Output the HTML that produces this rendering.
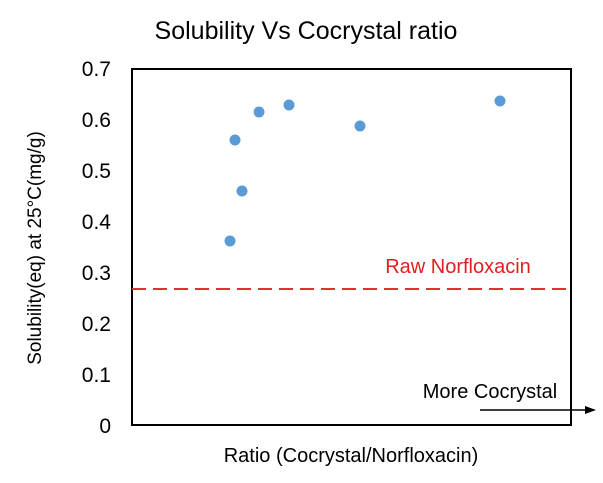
<!DOCTYPE html>
<html><head><style>
body{margin:0;background:#fff;}
svg text{font-family:"Liberation Sans",sans-serif;}
</style></head><body>
<svg width="603" height="478" xmlns="http://www.w3.org/2000/svg">
<rect width="603" height="478" fill="#fff"/>
<text x="306" y="39" font-size="25" text-anchor="middle" fill="#000">Solubility Vs Cocrystal ratio</text>
<rect x="132" y="69" width="439" height="356" fill="none" stroke="#000" stroke-width="2"/>
<g font-size="21" text-anchor="end" fill="#000">
<text x="111" y="76">0.7</text>
<text x="111" y="127">0.6</text>
<text x="111" y="178">0.5</text>
<text x="111" y="229">0.4</text>
<text x="111" y="280">0.3</text>
<text x="111" y="331">0.2</text>
<text x="111" y="382">0.1</text>
<text x="111" y="433">0</text>
</g>
<text transform="translate(41,248) rotate(-90)" font-size="19" text-anchor="middle">Solubility(eq) at 25°C(mg/g)</text>
<text x="351" y="462" font-size="20" text-anchor="middle">Ratio (Cocrystal/Norfloxacin)</text>
<line x1="132" y1="289" x2="571" y2="289" stroke="#e03030" stroke-width="2" stroke-dasharray="14,7"/>
<text x="458" y="273" font-size="20" fill="#e02020" text-anchor="middle">Raw Norfloxacin</text>
<text x="490" y="398" font-size="20" text-anchor="middle">More Cocrystal</text>
<line x1="480" y1="410" x2="586" y2="410" stroke="#000" stroke-width="1.5"/>
<polygon points="596,410 585,406 585,414" fill="#000"/>
<g fill="#5b9bd5">
<circle cx="230" cy="241" r="5.5"/>
<circle cx="235" cy="140" r="5.5"/>
<circle cx="242" cy="191" r="5.5"/>
<circle cx="259" cy="112" r="5.5"/>
<circle cx="289" cy="105" r="5.5"/>
<circle cx="360" cy="126" r="5.5"/>
<circle cx="500" cy="101" r="5.5"/>
</g>
</svg>
</body></html>
